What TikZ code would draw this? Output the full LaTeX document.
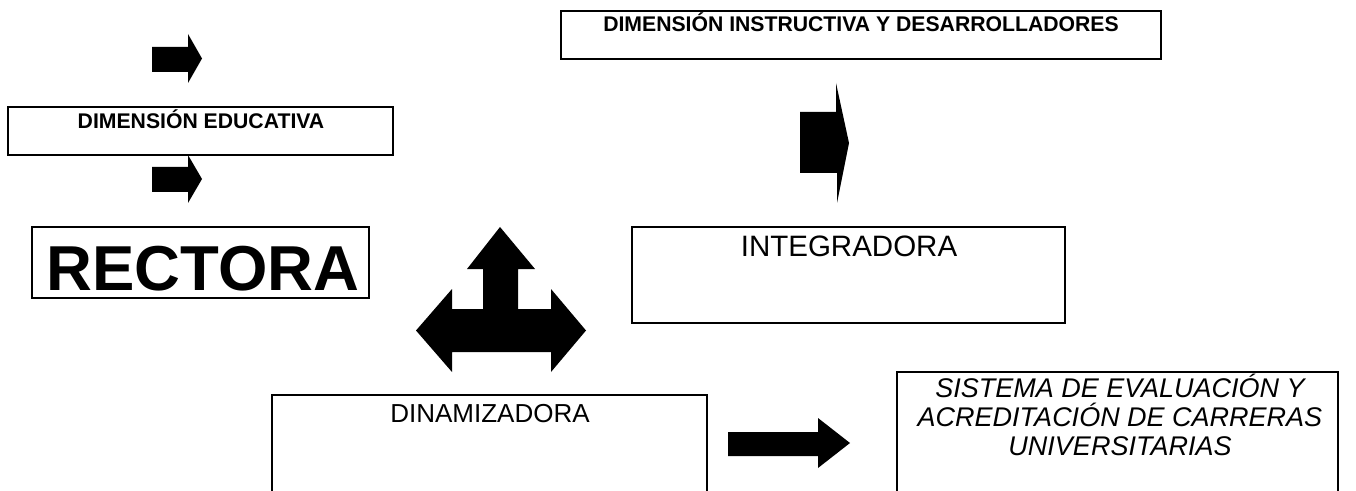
\documentclass[tikz,border=0pt]{standalone}
\usepackage{fontspec}
\setmainfont{Liberation Sans}
\begin{document}
\begin{tikzpicture}[x=1bp,y=-1bp,
  box/.style={draw=black,line width=1.8bp,fill=white,rectangle,inner sep=0pt},
  blk/.style={fill=black,draw=none},
  lbl/.style={anchor=base,inner sep=0pt,text=black},
  bsmall/.style={lbl,font=\fontsize{21.2bp}{24bp}\selectfont\bfseries},
  ital/.style={lbl,font=\fontsize{27bp}{29bp}\selectfont\itshape}]
\useasboundingbox (0,0) rectangle (1356,491);
\clip (0,0) rectangle (1356,491);
\fill[white] (0,0) rectangle (1356,491);
% boxes
\draw[box] (8,107) rectangle (393,155);
\node[bsmall] (edut) at (201,129) {DIMENSIÓN EDUCATIVA};
\draw[box] (32,227) rectangle (369,298);
\node[lbl,font=\fontsize{63.5bp}{70bp}\selectfont\bfseries] (rect) at (203,290) {RECTORA};
\draw[box] (561,11) rectangle (1161,59);
\node[bsmall] (instt) at (861,32) {DIMENSIÓN INSTRUCTIVA Y DESARROLLADORES};
\draw[box] (632,227) rectangle (1065,323);
\node[lbl,font=\fontsize{29.5bp}{33bp}\selectfont] (integ) at (849,257) {INTEGRADORA};
\draw[box] (272,395) rectangle (707,520);
\node[lbl,font=\fontsize{26bp}{30bp}\selectfont] (dinam) at (490,422) {DINAMIZADORA};
\draw[box] (897,372) rectangle (1338,520);
\node[ital] (s1) at (1120,397) {SISTEMA DE EVALUACIÓN Y};
\node[ital] (s2) at (1120,426) {ACREDITACIÓN DE CARRERAS};
\node[ital] (s3) at (1120,455) {UNIVERSITARIAS};
% block arrows
\fill[blk] (152,47) -- (188,47) -- (188,34) -- (202,58.5) -- (188,83) -- (188,72) -- (152,72) -- cycle;
\fill[blk] (152,167) -- (188,167) -- (188,155) -- (202,179) -- (188,203) -- (188,192) -- (152,192) -- cycle;
\fill[blk] (800,112) -- (836,112) -- (836,83) -- (849,143) -- (837,203) -- (837,173) -- (800,173) -- cycle;
\fill[blk] (728,432) -- (818,432) -- (818,418) -- (850,443) -- (818,468) -- (818,456) -- (728,456) -- cycle;
\fill[blk] (500,227) -- (535,269) -- (518,269) -- (518,309) -- (551,309) -- (551,289)
  -- (586,330.5) -- (551,372) -- (551,352) -- (452,352) -- (452,372) -- (416,330.5)
  -- (452,289) -- (452,309) -- (483,309) -- (483,269) -- (467,269) -- cycle;
\end{tikzpicture}
\end{document}
